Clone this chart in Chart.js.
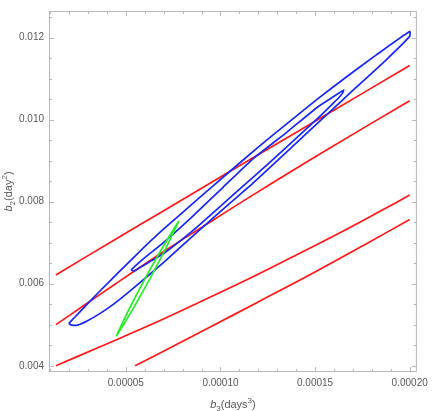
<!DOCTYPE html>
<html>
<head>
<meta charset="utf-8">
<script src="https://cdn.jsdelivr.net/npm/chart.js@4/dist/chart.umd.min.js"></script>
<style>
  html, body { margin: 0; padding: 0; background: #fff; }
  #wrap { width: 433px; height: 411px; position: relative; }
</style>
</head>
<body>
<div id="wrap"><canvas id="chart"></canvas></div>
<script>
// === DATA ===
// b3 in days^3 (x), b2 in day^2 (y)

// red curves
var red1X = [1.305e-5, 4.389e-5, 7.002e-5, 10.556e-5, 15.364e-5, 20.0e-5];
var red1Y = [6.215e-3, 7.069e-3, 7.782e-3, 8.755e-3, 10.061e-3, 11.319e-3];

var red2X = [1.305e-5, 2.664e-5, 4.389e-5, 7.002e-5, 8.570e-5, 11.705e-5, 15.364e-5, 20.0e-5];
var red2Y = [5.004e-3, 5.431e-3, 5.977e-3, 6.785e-3, 7.247e-3, 8.161e-3, 9.194e-3, 10.464e-3];

var red3X = [1.305e-5, 3.605e-5, 6.218e-5, 8.831e-5, 11.444e-5, 14.057e-5, 16.670e-5, 18.499e-5, 20.0e-5];
var red3Y = [4.0e-3, 4.458e-3, 4.980e-3, 5.538e-3, 6.108e-3, 6.713e-3, 7.331e-3, 7.783e-3, 8.161e-3];

var red4X = [5.486e-5, 7.524e-5, 9.510e-5, 11.967e-5, 14.998e-5, 17.716e-5, 20.0e-5];
var red4Y = [4.0e-3, 4.482e-3, 4.957e-3, 5.550e-3, 6.286e-3, 6.975e-3, 7.568e-3];

// blue outer loop: upper side out to the right edge, then lower side back to the tip
var outerX = [1.984e-5, 2.298e-5, 2.821e-5, 3.605e-5, 4.650e-5, 5.956e-5, 7.002e-5, 8.831e-5, 10.399e-5, 11.967e-5, 13.535e-5, 15.102e-5, 16.670e-5, 18.238e-5, 20.0e-5,
              20.0e-5, 18.761e-5, 17.193e-5, 15.364e-5, 13.535e-5, 11.705e-5, 10.399e-5, 8.831e-5, 7.002e-5, 5.434e-5, 4.389e-5, 3.605e-5, 2.977e-5, 2.455e-5, 2.141e-5, 1.984e-5];
var outerY = [5.028e-3, 5.182e-3, 5.436e-3, 5.811e-3, 6.296e-3, 6.884e-3, 7.335e-3, 8.074e-3, 8.700e-3, 9.320e-3, 9.911e-3, 10.495e-3, 11.046e-3, 11.580e-3, 12.150e-3,
              12.031e-3, 11.461e-3, 10.797e-3, 10.013e-3, 9.230e-3, 8.446e-3, 7.924e-3, 7.283e-3, 6.523e-3, 5.906e-3, 5.515e-3, 5.265e-3, 5.099e-3, 4.992e-3, 4.992e-3, 5.028e-3];

// blue inner loop
var innerX = [5.277e-5, 5.486e-5, 5.956e-5, 7.002e-5, 8.570e-5, 10.137e-5, 11.705e-5, 13.535e-5, 15.102e-5, 15.886e-5, 16.357e-5, 16.514e-5,
              16.461e-5, 16.252e-5, 15.886e-5, 15.364e-5, 13.535e-5, 11.705e-5, 10.137e-5, 8.570e-5, 7.002e-5, 6.218e-5, 5.695e-5, 5.434e-5, 5.277e-5];
var innerY = [6.334e-3, 6.428e-3, 6.618e-3, 7.010e-3, 7.663e-3, 8.351e-3, 9.040e-3, 9.704e-3, 10.298e-3, 10.535e-3, 10.678e-3, 10.725e-3,
              10.654e-3, 10.535e-3, 10.369e-3, 10.132e-3, 9.348e-3, 8.589e-3, 7.948e-3, 7.307e-3, 6.737e-3, 6.523e-3, 6.381e-3, 6.310e-3, 6.334e-3];

// green thin loop
var greenX = [4.493e-5, 4.770e-5, 5.212e-5, 6.009e-5, 6.858e-5, 7.404e-5, 7.786e-5,
              7.509e-5, 7.067e-5, 6.270e-5, 5.421e-5, 4.875e-5, 4.493e-5];
var greenY = [4.719e-3, 4.999e-3, 5.420e-3, 6.120e-3, 6.820e-3, 7.240e-3, 7.520e-3,
              7.240e-3, 6.820e-3, 6.120e-3, 5.420e-3, 4.999e-3, 4.719e-3];

// ticks
var xMajorTicks = [0.00005, 0.0001, 0.00015, 0.0002];
var xMinorTicks = [0.00001, 0.00002, 0.00003, 0.00004, 0.00006, 0.00007, 0.00008, 0.00009,
                   0.00011, 0.00012, 0.00013, 0.00014, 0.00016, 0.00017, 0.00018, 0.00019];
var yMajorTicks = [0.004, 0.006, 0.008, 0.010, 0.012];
var yMinorTicks = [0.0045, 0.005, 0.0055, 0.0065, 0.007, 0.0075, 0.0085, 0.009, 0.0095,
                   0.0105, 0.011, 0.0115, 0.0125];

function pts(xs, ys) {
  return xs.map(function(x, i) { return { x: x, y: ys[i] }; });
}

var RED = 'rgb(255,24,24)', BLUE = 'rgb(24,40,240)', GREEN = 'rgb(40,236,40)';
var TEXT = '#5a5a5a', FRAME = '#b8b8b8';

function lineSet(data, color, tension) {
  return { data: data, borderColor: color, borderWidth: 1.7, showLine: true,
           pointRadius: 0, tension: tension, fill: false };
}

// frame with inward ticks on all four sides, plus the axis titles
var framePlugin = {
  id: 'frame',
  afterDraw: function(chart) {
    var ctx = chart.ctx, a = chart.chartArea;
    var xs = chart.scales.x, ys = chart.scales.y;
    ctx.save();
    ctx.strokeStyle = FRAME;
    ctx.lineWidth = 1;
    ctx.strokeRect(a.left + 0.5, a.top + 0.5, a.right - a.left - 1, a.bottom - a.top - 1);

    function xTick(v, len) {
      var p = Math.round(xs.getPixelForValue(v)) + 0.5;
      ctx.beginPath();
      ctx.moveTo(p, a.bottom); ctx.lineTo(p, a.bottom - len);
      ctx.moveTo(p, a.top); ctx.lineTo(p, a.top + len);
      ctx.stroke();
    }
    function yTick(v, len) {
      var p = Math.round(ys.getPixelForValue(v)) + 0.5;
      ctx.beginPath();
      ctx.moveTo(a.left, p); ctx.lineTo(a.left + len, p);
      ctx.moveTo(a.right, p); ctx.lineTo(a.right - len, p);
      ctx.stroke();
    }
    xMajorTicks.forEach(function(v) { xTick(v, 5); });
    xMinorTicks.forEach(function(v) { xTick(v, 3); });
    yMajorTicks.forEach(function(v) { yTick(v, 5); });
    yMinorTicks.forEach(function(v) { yTick(v, 3); });

    // axis titles: italic b with subscript, unit with superscript
    function title(parts) {
      var w = 0;
      parts.forEach(function(p) { ctx.font = p.font; w += ctx.measureText(p.t).width; });
      var x = -w / 2;
      parts.forEach(function(p) {
        ctx.font = p.font;
        ctx.fillText(p.t, x, p.dy);
        x += ctx.measureText(p.t).width;
      });
    }
    var F = '11px "Liberation Sans", Arial, sans-serif';
    var FI = 'italic 11px "Liberation Sans", Arial, sans-serif';
    var FS = '8px "Liberation Sans", Arial, sans-serif';
    ctx.fillStyle = TEXT;
    ctx.textBaseline = 'alphabetic';
    ctx.textAlign = 'left';

    ctx.save();
    ctx.translate((a.left + a.right) / 2, 408);
    title([{ t: 'b', font: FI, dy: 0 }, { t: '3', font: FS, dy: 3 },
           { t: '(days', font: F, dy: 0 }, { t: '3', font: FS, dy: -5 }, { t: ')', font: F, dy: 0 }]);
    ctx.restore();

    ctx.save();
    ctx.translate(12, (a.top + a.bottom) / 2);
    ctx.rotate(-Math.PI / 2);
    title([{ t: 'b', font: FI, dy: 0 }, { t: '2', font: FS, dy: 3 },
           { t: '(day', font: F, dy: 0 }, { t: '2', font: FS, dy: -5 }, { t: ')', font: F, dy: 0 }]);
    ctx.restore();

    ctx.restore();
  }
};

Chart.defaults.font.family = '"Liberation Sans", Arial, sans-serif';

new Chart(document.getElementById('chart'), {
  type: 'scatter',
  data: {
    datasets: [
      lineSet(pts(greenX, greenY), GREEN, 0.1),
      lineSet(pts(innerX, innerY), BLUE, 0.15),
      lineSet(pts(outerX, outerY), BLUE, 0.15),
      lineSet(pts(red1X, red1Y), RED, 0.4),
      lineSet(pts(red2X, red2Y), RED, 0.4),
      lineSet(pts(red3X, red3Y), RED, 0.4),
      lineSet(pts(red4X, red4Y), RED, 0.4)
    ]
  },
  options: {
    responsive: true, maintainAspectRatio: false, animation: false,
    layout: { padding: { top: 1, right: 12, left: 0, bottom: 0 } },
    plugins: { legend: { display: false }, tooltip: { enabled: false } },
    scales: {
      x: {
        type: 'linear', min: 0.0000094, max: 0.0002038,
        grid: { display: false, drawTicks: false }, border: { display: false },
        afterBuildTicks: function(s) { s.ticks = xMajorTicks.map(function(v) { return { value: v }; }); },
        afterFit: function(s) { s.height = 39; },
        ticks: { autoSkip: false, maxRotation: 0, padding: 5, color: TEXT, font: { size: 10 },
                 callback: function(v) { return v.toFixed(5); } }
      },
      y: {
        type: 'linear', min: 0.003848, max: 0.01265,
        grid: { display: false, drawTicks: false }, border: { display: false },
        afterBuildTicks: function(s) { s.ticks = yMajorTicks.map(function(v) { return { value: v }; }); },
        afterFit: function(s) { s.width = 49; },
        ticks: { autoSkip: false, padding: 5, color: TEXT, font: { size: 10 },
                 callback: function(v) { return v.toFixed(3); } }
      }
    }
  },
  plugins: [framePlugin]
});
</script>
</body>
</html>
